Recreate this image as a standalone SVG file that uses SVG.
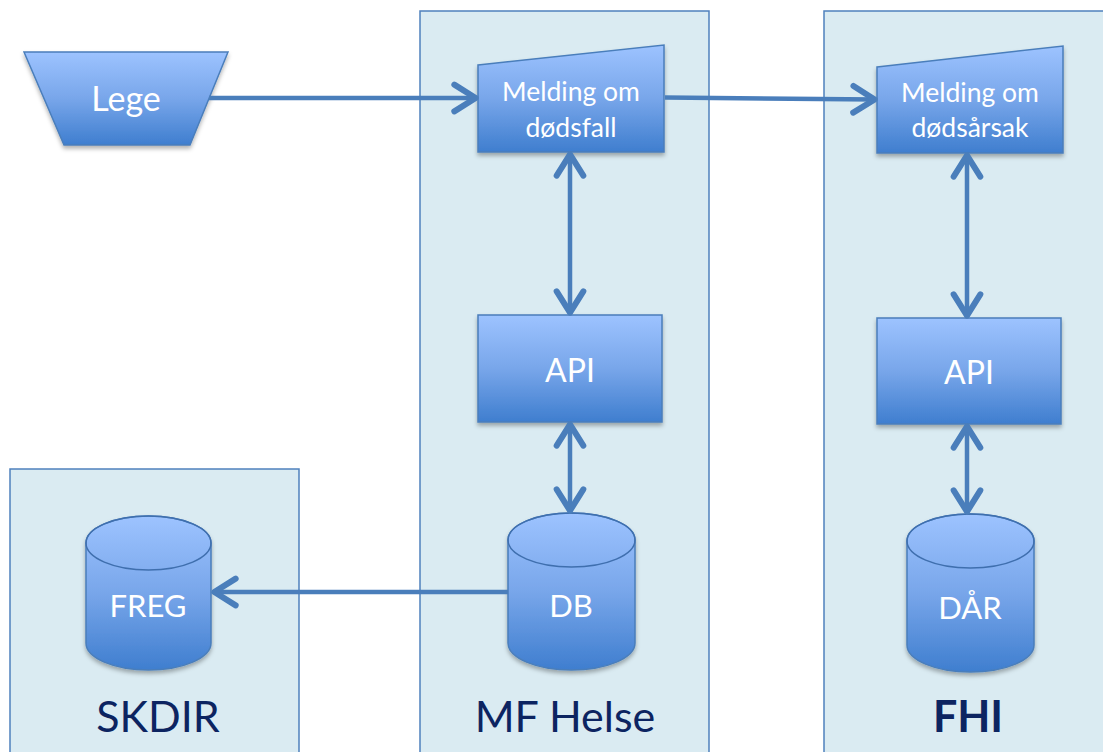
<svg xmlns="http://www.w3.org/2000/svg" width="1103" height="752" viewBox="0 0 1103 752">
<defs>
<linearGradient id="g" x1="0" y1="0" x2="0" y2="1">
<stop offset="0" stop-color="#9DC3FF"/>
<stop offset="0.5" stop-color="#78A6EA"/>
<stop offset="1" stop-color="#3F7ECF"/>
</linearGradient>
<filter id="sh" x="-10%" y="-10%" width="125%" height="130%">
<feDropShadow dx="0" dy="3" stdDeviation="2" flood-color="#000" flood-opacity="0.3"/>
</filter>
<marker id="ah" markerUnits="userSpaceOnUse" markerWidth="40" markerHeight="40" viewBox="-25 -15 30 30" refX="0" refY="0" orient="auto-start-reverse" overflow="visible">
<path d="M-17,-10 L-1,0 L-17,10" fill="none" stroke="#4A7EBB" stroke-width="4.5" stroke-linecap="round" stroke-linejoin="round"/>
</marker>
<style>
.cont{fill:#DAEBF2;stroke:#4F81BD;stroke-width:1.5}
.node{fill:url(#g);stroke:#4A7EBB;stroke-width:1.5;filter:url(#sh)}
.lid{fill:none;stroke:#3F6FAE;stroke-width:1.5}
.t{font-family:Lato,"Liberation Sans",sans-serif;fill:#FFFFFF;text-anchor:middle}
.lab{font-family:Lato,"Liberation Sans",sans-serif;fill:#0C2461;text-anchor:middle;font-size:43px}
.conn{fill:none;stroke:#4A7EBB;stroke-width:4.5}
</style>
</defs>
<rect width="1103" height="752" fill="#FFFFFF"/>

<g id="skdir">
<rect class="cont" x="10" y="469" width="289" height="300"/>
<text class="lab" x="158" y="732">SKDIR</text>
</g>
<g id="mfhelse">
<rect class="cont" x="420" y="11" width="289" height="760"/>
<text class="lab" x="565" y="732">MF Helse</text>
</g>
<g id="fhi">
<rect class="cont" x="824" y="11" width="300" height="760"/>
<text class="lab" x="968" y="732" font-weight="bold">FHI</text>
</g>

<g id="lege">
<polygon class="node" points="24,52 228,52 190,145 64,145"/>
<text class="t" x="126" y="111" font-size="34">Lege</text>
</g>

<g id="melding-dodsfall">
<polygon class="node" points="478,65 664,45 664,152 478,152"/>
<text class="t" x="571" y="101" font-size="26.5">Melding om</text>
<text class="t" x="571" y="137" font-size="26.5">dødsfall</text>
</g>

<g id="melding-dodsarsak">
<polygon class="node" points="877,67 1063,46 1063,153 877,153"/>
<text class="t" x="970" y="102" font-size="26.5">Melding om</text>
<text class="t" x="970" y="137" font-size="26.5">dødsårsak</text>
</g>

<g id="api-mf">
<rect class="node" x="478" y="315" width="184" height="107"/>
<text class="t" x="570" y="382" font-size="32">API</text>
</g>

<g id="api-fhi">
<rect class="node" x="877" y="318" width="184" height="106"/>
<text class="t" x="969" y="384" font-size="32">API</text>
</g>

<g id="db">
<path class="node" d="M508,540 L508,643 A63.5,27 0 0 0 635,643 L635,540 A63.5,27 0 0 0 508,540 Z"/>
<ellipse class="lid" cx="571.5" cy="540" rx="63.5" ry="27"/>
<text class="t" x="571" y="617" font-size="31">DB</text>
</g>

<g id="freg">
<path class="node" d="M86,543 L86,643 A62.5,27 0 0 0 211,643 L211,543 A62.5,27 0 0 0 86,543 Z"/>
<ellipse class="lid" cx="148.5" cy="543" rx="62.5" ry="27"/>
<text class="t" x="148" y="617" font-size="31">FREG</text>
</g>

<g id="daar">
<path class="node" d="M907,541 L907,645 A63.5,27 0 0 0 1034,645 L1034,541 A63.5,27 0 0 0 907,541 Z"/>
<ellipse class="lid" cx="970.5" cy="541" rx="63.5" ry="27"/>
<text class="t" x="970" y="619" font-size="31">DÅR</text>
</g>

<g id="connectors">
<line class="conn" x1="209" y1="98" x2="477" y2="98" marker-end="url(#ah)"/>
<line class="conn" x1="665" y1="97.5" x2="876" y2="99.5" marker-end="url(#ah)"/>
<line class="conn" x1="570" y1="153" x2="570" y2="314" marker-start="url(#ah)" marker-end="url(#ah)"/>
<line class="conn" x1="570" y1="423" x2="570" y2="512" marker-start="url(#ah)" marker-end="url(#ah)"/>
<line class="conn" x1="967" y1="154" x2="967" y2="317" marker-start="url(#ah)" marker-end="url(#ah)"/>
<line class="conn" x1="967" y1="425" x2="967" y2="513" marker-start="url(#ah)" marker-end="url(#ah)"/>
<line class="conn" x1="508" y1="592" x2="213" y2="592" marker-end="url(#ah)"/>
</g>
</svg>
